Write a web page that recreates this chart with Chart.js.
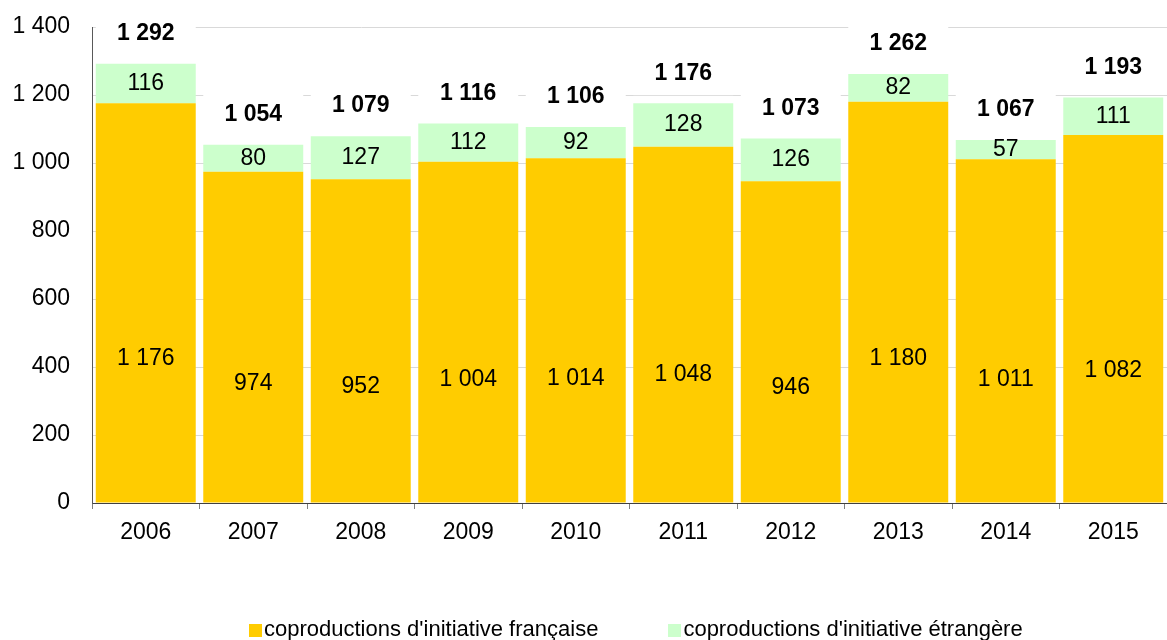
<!DOCTYPE html>
<html>
<head>
<meta charset="utf-8">
<script src="https://cdn.jsdelivr.net/npm/chart.js@4"></script>
<style>
  body { margin: 0; background: #fff; }
  #wrap { position: relative; width: 1167px; height: 640px; }
  #legend { position: absolute; left: 249px; top: 616px; display: flex; font-family: "Liberation Sans", Arial, sans-serif; font-size: 22px; color: #000; }
  #legend span.item { display: flex; align-items: center; margin-right: 70px; white-space: nowrap; }
  #legend span.box { display: inline-block; width: 13px; height: 13px; margin-right: 2px; margin-top: 3px; }
</style>
</head>
<body>
<div id="wrap">
  <canvas id="coprodChart"></canvas>
  <div id="legend"></div>
</div>
<script>
const years = ['2006', '2007', '2008', '2009', '2010', '2011', '2012', '2013', '2014', '2015'];
const francaise = [1176, 974, 952, 1004, 1014, 1048, 946, 1180, 1011, 1082];
const etrangere = [116, 80, 127, 112, 92, 128, 126, 82, 57, 111];
const totals = [1292, 1054, 1079, 1116, 1106, 1176, 1073, 1262, 1067, 1193];
const yTicks = [0, 200, 400, 600, 800, 1000, 1200, 1400];

const seriesNames = ["coproductions d'initiative française", "coproductions d'initiative étrangère"];
const colors = ['#FFCC00', '#CCFFCC'];
const font = '"Liberation Sans", Arial, sans-serif';

let fmt = function (v) {
    return String(v).replace(/\B(?=(\d{3})+(?!\d))/g, ' ');
};

// labels inside bars and bold totals on a white box above each bar
const valueLabels = {
    id: 'valueLabels',
    afterDatasetsDraw(chart) {
        const ctx = chart.ctx;
        const y = chart.scales.y;
        ctx.save();
        ctx.textAlign = 'center';
        ctx.textBaseline = 'middle';
        ctx.fillStyle = '#000';
        ctx.font = '23px ' + font;
        chart.getDatasetMeta(0).data.forEach(function (bar, i) {
            ctx.fillText(fmt(francaise[i]), bar.x, y.getPixelForValue(francaise[i] * 0.36));
        });
        chart.getDatasetMeta(1).data.forEach(function (bar, i) {
            ctx.fillText(fmt(etrangere[i]), bar.x, (bar.y + bar.base) / 2);
        });
        chart.getDatasetMeta(1).data.forEach(function (bar, i) {
            const cy = bar.y - 30;
            ctx.fillStyle = '#fff';
            ctx.fillRect(bar.x - bar.width / 2, cy - 22, bar.width, 44);
            ctx.fillStyle = '#000';
            ctx.font = 'bold 23px ' + font;
            ctx.fillText(fmt(totals[i]), bar.x, cy);
        });
        ctx.restore();
    }
};

let canvas = document.getElementById('coprodChart');
let coprodChart = new Chart(canvas, {
    type: 'bar',
    data: {
        labels: years,
        datasets: [
            {
                label: seriesNames[0],
                data: francaise,
                backgroundColor: colors[0],
                borderWidth: 0,
                barPercentage: 0.93,
                categoryPercentage: 1
            },
            {
                label: seriesNames[1],
                data: etrangere,
                backgroundColor: colors[1],
                borderWidth: 0,
                barPercentage: 0.93,
                categoryPercentage: 1
            }
        ]
    },
    options: {
        responsive: true,
        maintainAspectRatio: false,
        animation: false,
        layout: { padding: { top: 27, right: 0, bottom: 0, left: 0 } },
        plugins: {
            legend: { display: false },
            tooltip: { enabled: false }
        },
        scales: {
            x: {
                stacked: true,
                grid: { display: true, drawOnChartArea: false, drawTicks: true, tickLength: 6, color: '#808080' },
                border: { display: true, color: '#404040', width: 1 },
                ticks: { color: '#000', font: { family: font, size: 23 }, padding: 10 },
                afterFit: function (s) { s.height = 137; }
            },
            y: {
                stacked: true,
                min: 0,
                max: 1400,
                afterBuildTicks: function (s) { s.ticks = yTicks.map(v => ({ value: v })); },
                grid: { color: '#d9d9d9', drawTicks: false },
                border: { display: true, color: '#595959', width: 1 },
                ticks: {
                    color: '#000',
                    font: { family: font, size: 23, lineHeight: 1 },
                    padding: 22,
                    callback: function (v) { return fmt(v); }
                },
                afterFit: function (s) { s.width = 92; s.paddingTop = 0; s.paddingBottom = 0; }
            }
        }
    },
    plugins: [valueLabels]
});

let legend = document.getElementById('legend');
seriesNames.forEach(function (name, i) {
    legend.innerHTML += '<span class="item"><span class="box" style="background:' + colors[i] + '"></span>' + name + '</span>';
});
</script>
</body>
</html>
